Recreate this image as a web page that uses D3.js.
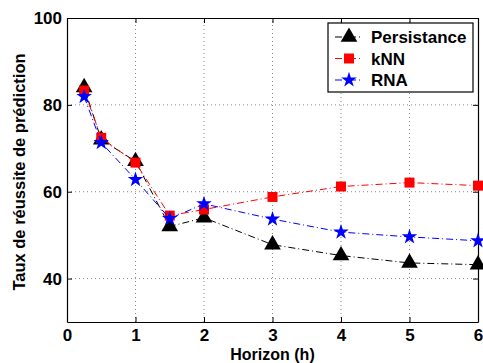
<!DOCTYPE html>
<html>
<head>
<meta charset="utf-8">
<script src="https://cdn.jsdelivr.net/npm/d3@7"></script>
<style>
  body { margin: 0; background: #fff; }
  text { font-family: "Liberation Sans", Arial, sans-serif; font-weight: bold; }
</style>
</head>
<body>
<script>
const width = 483;
const height = 363;

// The data
const horizons = [0.25, 0.5, 1, 1.5, 2, 3, 4, 5, 6];
const persistance = [84, 72, 67, 52, 54, 47.8, 45.3, 43.6, 43.2];
const knn = [83.3, 72.4, 66.7, 54.5, 55.9, 58.8, 61.2, 62.1, 61.4];
const rna = [81.9, 71.3, 62.8, 53.8, 57.2, 53.7, 50.7, 49.6, 48.7];
const xTicks = [0, 1, 2, 3, 4, 5, 6];
const yTicks = [40, 60, 80, 100];

const series = [
  {name: 'Persistance', values: persistance, color: '#000', symbol: d3.symbolTriangle, size: 120},
  {name: 'kNN', values: knn, color: '#f00', symbol: d3.symbolSquare, size: 100},
  {name: 'RNA', values: rna, color: '#00f', symbol: d3.symbolStar, size: 75}
];

const margin = {left: 67, right: 4, top: 18, bottom: 41};

var svg = d3.select('body').append('svg')
  .attr('width', width)
  .attr('height', height);

const x = d3.scaleLinear().domain([0, 6]).range([margin.left, width - margin.right - 1]);
const y = d3.scaleLinear().domain([30, 100]).range([height - margin.bottom, margin.top]);

// grid
svg.append('g').selectAll('line')
  .data(xTicks.slice(1, -1))
  .join('line')
  .attr('x1', d => x(d)).attr('x2', d => x(d))
  .attr('y1', y(30)).attr('y2', y(100))
  .attr('stroke', '#888').attr('stroke-width', 1)
  .attr('stroke-dasharray', '1,3');

svg.append('g').selectAll('line')
  .data(yTicks.slice(0, -1))
  .join('line')
  .attr('x1', x(0)).attr('x2', x(6))
  .attr('y1', d => y(d)).attr('y2', d => y(d))
  .attr('stroke', '#888').attr('stroke-width', 1)
  .attr('stroke-dasharray', '1,3');

// axes (ticks inside, on all four sides)
svg.append('g')
  .attr('transform', 'translate(0,' + y(30) + ')')
  .call(d3.axisBottom(x).tickValues(xTicks).tickFormat(d3.format('d')).tickSizeInner(-5).tickSizeOuter(0).tickPadding(7))
  .call(g => g.selectAll('text').style('font-size', '17px').attr('fill', '#000'));

svg.append('g')
  .attr('transform', 'translate(' + x(0) + ',0)')
  .call(d3.axisLeft(y).tickValues(yTicks).tickSizeInner(-5).tickSizeOuter(0).tickPadding(5))
  .call(g => g.selectAll('text').style('font-size', '17px').attr('fill', '#000'));

svg.append('g')
  .attr('transform', 'translate(0,' + y(100) + ')')
  .call(d3.axisTop(x).tickValues(xTicks).tickSizeInner(-5).tickSizeOuter(0).tickFormat(''));

svg.append('g')
  .attr('transform', 'translate(' + x(6) + ',0)')
  .call(d3.axisRight(y).tickValues(yTicks).tickSizeInner(-5).tickSizeOuter(0).tickFormat(''));

svg.selectAll('.domain').attr('stroke', '#000').attr('stroke-width', 1.2);
svg.selectAll('.tick line').attr('stroke', '#000');

// lines and markers
const line = d3.line()
  .x((d, i) => x(horizons[i]))
  .y(d => y(d));

series.forEach(function(s) {
  svg.append('path')
    .datum(s.values)
    .attr('d', line)
    .attr('fill', 'none')
    .attr('stroke', s.color)
    .attr('stroke-width', 1)
    .attr('stroke-dasharray', '7,3,1,3');

  svg.append('g').selectAll('path')
    .data(s.values)
    .join('path')
    .attr('transform', (d, i) => 'translate(' + x(horizons[i]) + ',' + y(d) + ')')
    .attr('d', d3.symbol().type(s.symbol).size(s.size))
    .attr('fill', s.color);
});

// legend
var legend = svg.append('g');
legend.append('rect')
  .attr('x', 328).attr('y', 23)
  .attr('width', 145).attr('height', 69)
  .attr('fill', '#fff').attr('stroke', '#000').attr('stroke-width', 1.2);

series.forEach(function(s, i) {
  var ly = 37 + i * 21.5;
  legend.append('line')
    .attr('x1', 335).attr('x2', 363)
    .attr('y1', ly).attr('y2', ly)
    .attr('stroke', s.color)
    .attr('stroke-dasharray', '7,3,1,3');
  legend.append('path')
    .attr('transform', 'translate(349,' + ly + ')')
    .attr('d', d3.symbol().type(s.symbol).size(s.size))
    .attr('fill', s.color);
  legend.append('text')
    .attr('x', 371).attr('y', ly + 6)
    .style('font-size', '17px')
    .text(s.name);
});

// axis titles
svg.append('text')
  .attr('x', (x(0) + x(6)) / 2).attr('y', 360)
  .style('text-anchor', 'middle')
  .style('font-size', '16px')
  .text('Horizon (h)');

svg.append('text')
  .attr('transform', 'translate(25,172) rotate(-90)')
  .style('text-anchor', 'middle')
  .style('font-size', '16.5px')
  .text('Taux de réussite de prédiction');
</script>
</body>
</html>
